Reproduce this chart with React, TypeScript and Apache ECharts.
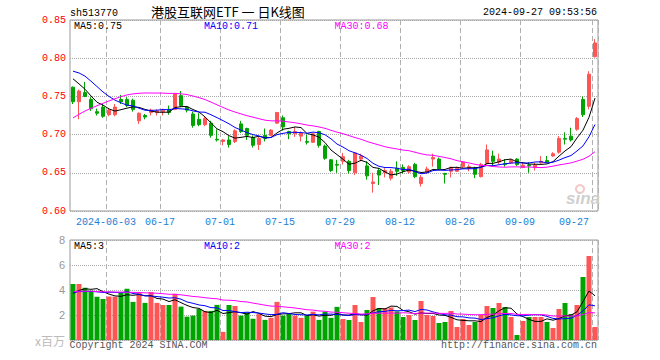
import { useEffect, useRef } from "react";
import * as echarts from "echarts";

// Trading days shown (2024)
const categories = [
  "2024-05-24", "2024-05-27", "2024-05-28", "2024-05-29", "2024-05-30", "2024-05-31",
  "2024-06-03", "2024-06-04", "2024-06-05", "2024-06-06", "2024-06-07",
  "2024-06-11", "2024-06-12", "2024-06-13", "2024-06-14",
  "2024-06-17", "2024-06-18", "2024-06-19", "2024-06-20", "2024-06-21",
  "2024-06-24", "2024-06-25", "2024-06-26", "2024-06-27", "2024-06-28",
  "2024-07-01", "2024-07-02", "2024-07-03", "2024-07-04", "2024-07-05",
  "2024-07-08", "2024-07-09", "2024-07-10", "2024-07-11", "2024-07-12",
  "2024-07-15", "2024-07-16", "2024-07-17", "2024-07-18", "2024-07-19",
  "2024-07-22", "2024-07-23", "2024-07-24", "2024-07-25", "2024-07-26",
  "2024-07-29", "2024-07-30", "2024-07-31", "2024-08-01", "2024-08-02",
  "2024-08-05", "2024-08-06", "2024-08-07", "2024-08-08", "2024-08-09",
  "2024-08-12", "2024-08-13", "2024-08-14", "2024-08-15", "2024-08-16",
  "2024-08-19", "2024-08-20", "2024-08-21", "2024-08-22", "2024-08-23",
  "2024-08-26", "2024-08-27", "2024-08-28", "2024-08-29", "2024-08-30",
  "2024-09-02", "2024-09-03", "2024-09-04", "2024-09-05", "2024-09-06",
  "2024-09-09", "2024-09-10", "2024-09-11", "2024-09-12", "2024-09-13",
  "2024-09-18", "2024-09-19", "2024-09-20",
  "2024-09-23", "2024-09-24", "2024-09-25", "2024-09-26", "2024-09-27",
];

const opens = [
  0.762, 0.743, 0.755, 0.746, 0.730, 0.736, 0.726, 0.726, 0.746, 0.746,
  0.745, 0.718, 0.725, 0.729, 0.729, 0.730, 0.733, 0.733, 0.751, 0.736,
  0.727, 0.720, 0.713, 0.715, 0.694, 0.691, 0.693, 0.691, 0.714, 0.708,
  0.696, 0.687, 0.699, 0.699, 0.715, 0.722, 0.704, 0.701, 0.698, 0.691,
  0.690, 0.704, 0.685, 0.667, 0.661, 0.665, 0.665, 0.650, 0.668, 0.659,
  0.636, 0.653, 0.650, 0.643, 0.656, 0.657, 0.651, 0.661, 0.636, 0.651,
  0.668, 0.668, 0.649, 0.652, 0.652, 0.658, 0.656, 0.656, 0.645, 0.662,
  0.672, 0.664, 0.662, 0.663, 0.668, 0.657, 0.660, 0.657, 0.663, 0.666,
  0.672, 0.677, 0.695, 0.698, 0.707, 0.746, 0.737, 0.802,
];
const closes = [
  0.743, 0.757, 0.750, 0.734, 0.728, 0.724, 0.732, 0.736, 0.743, 0.738,
  0.733, 0.728, 0.723, 0.732, 0.731, 0.732, 0.729, 0.753, 0.738, 0.732,
  0.712, 0.713, 0.721, 0.699, 0.693, 0.693, 0.687, 0.705, 0.704, 0.699,
  0.686, 0.695, 0.695, 0.706, 0.729, 0.710, 0.701, 0.704, 0.702, 0.690,
  0.701, 0.686, 0.669, 0.653, 0.660, 0.671, 0.653, 0.676, 0.672, 0.646,
  0.638, 0.647, 0.653, 0.652, 0.652, 0.653, 0.658, 0.645, 0.644, 0.655,
  0.670, 0.655, 0.648, 0.657, 0.656, 0.664, 0.658, 0.648, 0.661, 0.680,
  0.665, 0.668, 0.661, 0.666, 0.661, 0.660, 0.659, 0.660, 0.665, 0.664,
  0.675, 0.695, 0.694, 0.693, 0.721, 0.726, 0.779, 0.820,
];
const lows = [
  0.740, 0.720, 0.749, 0.731, 0.725, 0.722, 0.724, 0.724, 0.740, 0.736,
  0.730, 0.714, 0.720, 0.725, 0.725, 0.725, 0.726, 0.732, 0.736, 0.729,
  0.709, 0.711, 0.711, 0.696, 0.691, 0.686, 0.683, 0.689, 0.702, 0.693,
  0.683, 0.680, 0.691, 0.698, 0.714, 0.705, 0.694, 0.697, 0.691, 0.687,
  0.689, 0.683, 0.667, 0.651, 0.650, 0.661, 0.649, 0.647, 0.665, 0.641,
  0.624, 0.634, 0.644, 0.640, 0.646, 0.649, 0.649, 0.643, 0.632, 0.650,
  0.658, 0.654, 0.636, 0.644, 0.651, 0.656, 0.652, 0.643, 0.644, 0.661,
  0.658, 0.661, 0.658, 0.662, 0.659, 0.656, 0.650, 0.653, 0.662, 0.663,
  0.671, 0.675, 0.687, 0.691, 0.705, 0.723, 0.733, 0.801,
];
const highs = [
  0.763, 0.759, 0.769, 0.749, 0.734, 0.740, 0.735, 0.740, 0.752, 0.749,
  0.747, 0.729, 0.727, 0.734, 0.733, 0.734, 0.738, 0.754, 0.757, 0.737,
  0.730, 0.728, 0.723, 0.718, 0.707, 0.694, 0.698, 0.707, 0.718, 0.709,
  0.699, 0.697, 0.708, 0.707, 0.729, 0.725, 0.705, 0.710, 0.704, 0.700,
  0.702, 0.705, 0.687, 0.668, 0.667, 0.676, 0.667, 0.677, 0.675, 0.665,
  0.650, 0.656, 0.656, 0.655, 0.665, 0.661, 0.660, 0.663, 0.647, 0.658,
  0.675, 0.670, 0.650, 0.658, 0.658, 0.665, 0.661, 0.658, 0.663, 0.687,
  0.679, 0.675, 0.668, 0.668, 0.669, 0.663, 0.664, 0.663, 0.672, 0.672,
  0.677, 0.698, 0.703, 0.709, 0.723, 0.750, 0.783, 0.825,
];
// volume, millions of units
const volumes = [
  4.48, 4.48, 4.18, 3.95, 3.46, 3.28, 3.48, 3.47, 3.78, 4.1,
  3.05, 3.79, 2.97, 3.84, 2.97, 2.8, 2.8, 3.69, 2.67, 1.87,
  1.95, 2.48, 2.33, 2.33, 2.81, 0.65, 2.8, 2.72, 1.95, 2.2,
  1.7, 2.07, 1.61, 1.77, 3.05, 1.95, 2.16, 1.95, 1.77, 1.95,
  2.27, 1.61, 2.27, 1.77, 2.65, 1.68, 1.6, 2.8, 1.44, 2.4,
  3.44, 2.56, 2.56, 2.6, 2.29, 1.84, 2.0, 1.6, 3.12, 2.0,
  1.92, 1.36, 1.44, 2.32, 1.04, 1.68, 1.2, 1.44, 2.0, 2.72,
  2.56, 2.96, 2.64, 1.84, 0.4, 1.52, 1.84, 1.84, 1.84, 1.44,
  0.96, 2.48, 2.96, 2.08, 2.8, 5.04, 6.72, 1.04,
];
// estimated history before the visible window (only feeds the moving averages)
const priorCloses = [
  0.615, 0.620, 0.625, 0.630, 0.628, 0.640, 0.650,
  0.660, 0.672, 0.690, 0.705, 0.712, 0.735, 0.730,
  0.735, 0.742, 0.750, 0.755, 0.762, 0.769,
  0.780, 0.792, 0.800, 0.798, 0.795,
  0.790, 0.785, 0.778, 0.769,
];
const priorVolumes = [
  3.5, 4.2, 3.8, 4.6, 3.9, 3.3, 4.1, 3.7, 4.4, 3.6,
  4.0, 3.8, 4.3, 3.5, 3.9, 4.2, 3.6, 4.1, 3.7, 4.0,
  3.6, 4.2, 3.9, 3.7, 3.85,
  3.3, 3.52, 4.17, 3.18,
];
const labeledDates = [
  "2024-06-03", "2024-06-17", "2024-07-01", "2024-07-15", "2024-07-29",
  "2024-08-12", "2024-08-26", "2024-09-09", "2024-09-27",
];
const priceLegend = ["MA5:0.75", "MA10:0.71", "MA30:0.68"];
const volumeLegend = ["MA5:3", "MA10:2", "MA30:2"];

function movingAverage(prior: number[], values: number[], n: number) {
  const all = prior.concat(values);
  return values.map((_, i) => {
    const end = prior.length + i;
    let s = 0;
    for (let k = end - n + 1; k <= end; k++) s += all[k];
    return +(s / n).toFixed(4);
  });
}

const RED = "#ff5555";
const GREEN = "#00a400";
const MONO = "'Liberation Mono', 'DejaVu Sans Mono', monospace";

export default function App() {
  const ref = useRef<HTMLDivElement>(null);
  useEffect(() => {
    document.body.style.margin = "0";
    const chart = echarts.init(ref.current!, undefined, { renderer: "svg" });
    const labelIdx = new Set(labeledDates.map((d) => categories.indexOf(d)));
    const candleData = categories.map((_, i) => [opens[i], closes[i], lows[i], highs[i]]);
    const volData = volumes.map((v, i) => ({
      value: v,
      itemStyle: { color: closes[i] >= opens[i] ? RED : GREEN },
    }));
    const ma = (n: number) => movingAverage(priorCloses, closes, n);
    const vma = (n: number) => movingAverage(priorVolumes, volumes, n);
    const lineS = (data: number[], color: string, ax: number) => ({
      type: "line",
      data,
      xAxisIndex: ax,
      yAxisIndex: ax,
      symbol: "none",
      lineStyle: { color, width: 1 },
      z: 5,
      silent: true,
    });
    const txt = (text: string, x: number, y: number, fill: string, font: string, align = "left") => ({
      type: "text",
      x,
      y,
      z: 100,
      style: {
        text,
        fill,
        font,
        align,
        textAlign: align,
        verticalAlign: "middle",
        textVerticalAlign: "middle",
      },
    });
    const splitX = {
      show: true,
      interval: (i: number) => labelIdx.has(i),
      lineStyle: { color: "#b0b0b0", type: [5, 3], width: 1 },
    };
    chart.setOption({
      animation: false,
      backgroundColor: "#ffffff",
      grid: [
        { left: 70, top: 20, width: 528, height: 191, show: true, borderColor: "#999", borderWidth: 1 },
        { left: 70, top: 240, width: 528, height: 100, show: true, borderColor: "#999", borderWidth: 1 },
      ],
      xAxis: [
        {
          type: "category",
          data: categories,
          gridIndex: 0,
          boundaryGap: true,
          axisLine: { show: false },
          axisTick: { show: false },
          axisLabel: {
            interval: (i: number) => labelIdx.has(i),
            formatter: (v: string) => (v === "2024-06-03" ? v : v.slice(5)),
            color: "#1c7ed6",
            fontFamily: MONO,
            fontSize: 10,
            margin: 6,
            padding: [0, 6, 0, 0],
            alignMaxLabel: "right",
          },
          splitLine: splitX,
        },
        {
          type: "category",
          data: categories,
          gridIndex: 1,
          boundaryGap: true,
          axisLine: { show: false },
          axisTick: { show: false },
          axisLabel: { show: false },
          splitLine: splitX,
        },
      ],
      yAxis: [
        {
          type: "value",
          gridIndex: 0,
          min: 0.6,
          max: 0.85,
          interval: 0.05,
          axisLine: { show: false },
          axisTick: { show: false },
          axisLabel: {
            formatter: (v: number) => v.toFixed(2),
            color: "#ff0000",
            fontFamily: MONO,
            fontSize: 10,
            margin: 4,
          },
          splitLine: { lineStyle: { color: "#aaa", type: "dotted" } },
        },
        {
          type: "value",
          gridIndex: 1,
          min: 0,
          max: 8,
          interval: 2,
          axisLine: { show: false },
          axisTick: { show: false },
          axisLabel: {
            formatter: (v: number) => (v === 0 ? "" : String(v)),
            color: "#999",
            fontFamily: "'Liberation Sans', sans-serif",
            fontSize: 11,
            margin: 5,
          },
          splitLine: { lineStyle: { color: "#aaa", type: "dotted" } },
        },
      ],
      series: [
        {
          type: "candlestick",
          data: candleData,
          xAxisIndex: 0,
          yAxisIndex: 0,
          barWidth: 4,
          itemStyle: {
            color: RED,
            color0: GREEN,
            borderColor: RED,
            borderColor0: GREEN,
            borderWidth: 1,
          },
          z: 3,
        },
        lineS(ma(5), "#000000", 0),
        lineS(ma(10), "#0000ff", 0),
        lineS(ma(30), "#ff00ff", 0),
        {
          type: "bar",
          data: volData,
          xAxisIndex: 1,
          yAxisIndex: 1,
          barWidth: 5,
          z: 3,
        },
        lineS(vma(5), "#000000", 1),
        lineS(vma(10), "#0000ff", 1),
        lineS(vma(30), "#ff00ff", 1),
      ],
      graphic: [
        txt("sh513770", 70, 13, "#000", `10px ${MONO}`),
        txt("港股互联网ETF 一 日K线图", 151, 11, "#000", "13px 'Noto Sans CJK SC', sans-serif"),
        txt("2024-09-27 09:53:56", 597, 12.5, "#000", `10px ${MONO}`, "right"),
        txt(priceLegend[0], 74, 26, "#000", `10px ${MONO}`),
        txt(priceLegend[1], 204, 26, "#0000ff", `10px ${MONO}`),
        txt(priceLegend[2], 334.5, 26, "#ff00ff", `10px ${MONO}`),
        txt(volumeLegend[0], 74, 246.5, "#000", `10px ${MONO}`),
        txt(volumeLegend[1], 204, 246.5, "#0000ff", `10px ${MONO}`),
        txt(volumeLegend[2], 334.5, 246.5, "#ff00ff", `10px ${MONO}`),
        txt("x百万", 65, 340, "#bbb", "12px 'Noto Sans CJK SC', sans-serif", "right"),
        txt("Copyright 2024 SINA.COM", 69.5, 345.5, "#555", `10px ${MONO}`),
        txt("http://finance.sina.com.cn", 597, 345.5, "#555", `10px ${MONO}`, "right"),
        {
          type: "ring",
          z: 1,
          shape: { cx: 580, cy: 189, r: 5, r0: 3 },
          style: { fill: "#f3c9c9" },
        },
        txt("sina", 566, 198, "#cfcfcf", "italic bold 17px 'Liberation Sans', sans-serif"),
      ],
    });
    return () => chart.dispose();
  }, []);
  return (
    <div
      ref={ref}
      style={{ position: "absolute", left: 0, top: 0, width: 660, height: 360, background: "#fff" }}
    />
  );
}
